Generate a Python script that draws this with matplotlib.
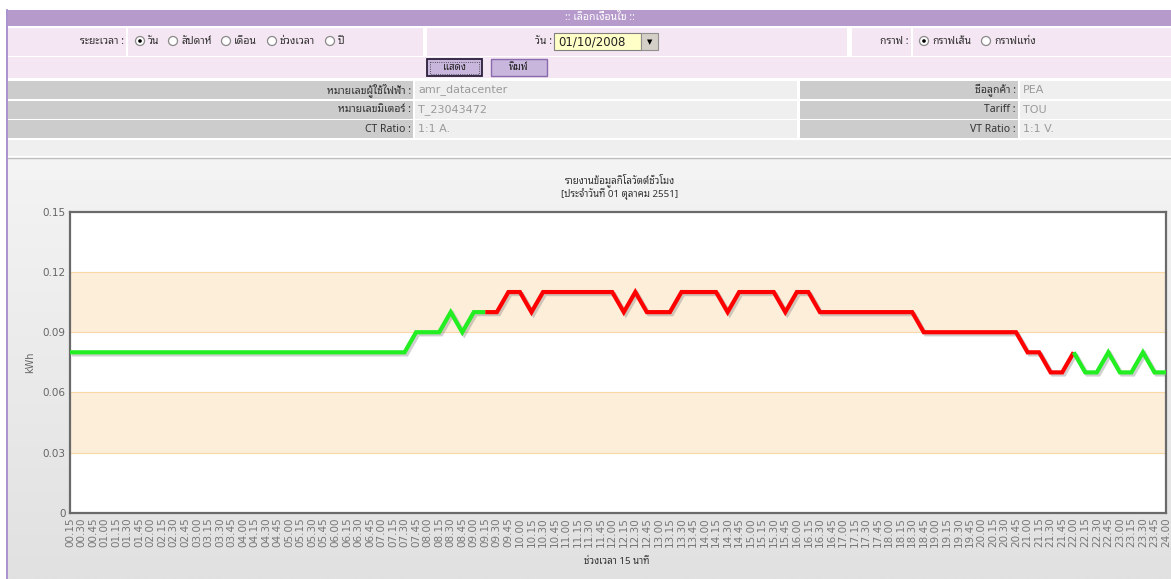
import numpy as np
import matplotlib.pyplot as plt
from matplotlib.patches import Rectangle, Circle
from matplotlib.colors import LinearSegmentedColormap
import matplotlib.patheffects as pe

# ข้อมูล kWh ทุก 15 นาที
time_labels = [
    '00.15', '00.30', '00.45', '01.00', '01.15', '01.30', '01.45', '02.00', '02.15', '02.30', '02.45', '03.00',
    '03.15', '03.30', '03.45', '04.00', '04.15', '04.30', '04.45', '05.00', '05.15', '05.30', '05.45', '06.00',
    '06.15', '06.30', '06.45', '07.00', '07.15', '07.30', '07.45', '08.00', '08.15', '08.30', '08.45', '09.00',
    '09.15', '09.30', '09.45', '10.00', '10.15', '10.30', '10.45', '11.00', '11.15', '11.30', '11.45', '12.00',
    '12.15', '12.30', '12.45', '13.00', '13.15', '13.30', '13.45', '14.00', '14.15', '14.30', '14.45', '15.00',
    '15.15', '15.30', '15.45', '16.00', '16.15', '16.30', '16.45', '17.00', '17.15', '17.30', '17.45', '18.00',
    '18.15', '18.30', '18.45', '19.00', '19.15', '19.30', '19.45', '20.00', '20.15', '20.30', '20.45', '21.00',
    '21.15', '21.30', '21.45', '22.00', '22.15', '22.30', '22.45', '23.00', '23.15', '23.30', '23.45', '24.00',
]
kwh = [
    0.08, 0.08, 0.08, 0.08, 0.08, 0.08, 0.08, 0.08, 0.08, 0.08, 0.08, 0.08,
    0.08, 0.08, 0.08, 0.08, 0.08, 0.08, 0.08, 0.08, 0.08, 0.08, 0.08, 0.08,
    0.08, 0.08, 0.08, 0.08, 0.08, 0.08, 0.09, 0.09, 0.09, 0.10, 0.09, 0.10,
    0.10, 0.10, 0.11, 0.11, 0.10, 0.11, 0.11, 0.11, 0.11, 0.11, 0.11, 0.11,
    0.10, 0.11, 0.10, 0.10, 0.10, 0.11, 0.11, 0.11, 0.11, 0.10, 0.11, 0.11,
    0.11, 0.11, 0.10, 0.11, 0.11, 0.10, 0.10, 0.10, 0.10, 0.10, 0.10, 0.10,
    0.10, 0.10, 0.09, 0.09, 0.09, 0.09, 0.09, 0.09, 0.09, 0.09, 0.09, 0.08,
    0.08, 0.07, 0.07, 0.08, 0.07, 0.07, 0.08, 0.07, 0.07, 0.08, 0.07, 0.07,
]
peak_from = '09.15'   # ช่วง on-peak (สีแดง)
peak_to = '22.00'
y_ticks = [0, 0.03, 0.06, 0.09, 0.12, 0.15]
y_tick_labels = ['0', '0.03', '0.06', '0.09', '0.12', '0.15']
bands = [(0.03, 0.06), (0.09, 0.12)]

plt.rcParams['font.family'] = ['Noto Sans Thai Looped', 'DejaVu Sans']

W, H = 1171, 579
fig = plt.figure(figsize=(W / 100, H / 100), dpi=100)
fig.patch.set_facecolor('white')

# แกนพื้นหลังเป็นพิกเซล
bg = fig.add_axes([0, 0, 1, 1])
bg.set_xlim(0, W)
bg.set_ylim(H, 0)
bg.axis('off')


def rect(x0, y0, x1, y1, color, **kw):
    bg.add_patch(Rectangle((x0, y0), x1 - x0, y1 - y0, facecolor=color, **kw))


def radio(x, y, checked):
    bg.add_patch(Circle((x, y), 4.5, facecolor='white', edgecolor='#8a8a8a', lw=0.9))
    if checked:
        bg.add_patch(Circle((x, y), 1.8, facecolor='black', edgecolor='none'))


lab = dict(fontsize=7.5, color='#333333', va='center')
val = dict(fontsize=8, color='#9a9a9a', va='center', family='DejaVu Sans')

# แถบหัว
bg.plot([7, 7], [10, H], color='#9b7fc4', lw=1.2)
rect(7.5, 10, W, 26, '#b59acb')
bg.text(600, 18, ':: เลือกเงื่อนไข ::', ha='center', va='center', color='white', fontsize=7.5, fontweight='bold')

# แถวเงื่อนไข
pink = '#f4e6f2'
for x0, x1 in [(8, 126), (128, 423), (427, 847), (852, 911), (913, W)]:
    rect(x0, 28, x1, 55.5, pink)
bg.text(124, 42, 'ระยะเวลา :', ha='right', **lab)
for x, name, on in [(140, 'วัน', True), (173, 'สัปดาห์', False), (226, 'เดือน', False),
                    (272, 'ช่วงเวลา', False), (330, 'ปี', False)]:
    radio(x, 41, on)
    bg.text(x + 8, 42, name, ha='left', **lab)
bg.text(552, 42, 'วัน :', ha='right', **lab)
rect(554, 33, 641, 50, '#ffffc8', edgecolor='#808080', lw=0.8)
bg.text(558, 42, '01/10/2008', ha='left', va='center', fontsize=8.5, color='#222', family='DejaVu Sans')
rect(641, 33, 658, 50, '#d4d0c8', edgecolor='#909090', lw=0.8)
bg.text(649.5, 42, '▼', ha='center', va='center', fontsize=5, color='black', family='DejaVu Sans')
bg.text(909, 42, 'กราฟ :', ha='right', **lab)
radio(924, 41, True)
bg.text(932, 42, 'กราฟเส้น', ha='left', **lab)
radio(986, 41, False)
bg.text(994, 42, 'กราฟแท่ง', ha='left', **lab)

# แถวปุ่ม
rect(8, 57, W, 77.5, pink)
rect(427, 59, 482, 76, '#c9b6dd', edgecolor='#2a1f3a', lw=1.3)
rect(430, 61.5, 479, 73.5, 'none', edgecolor='#333', lw=0.6, ls=':')
bg.text(454.5, 67.5, 'แสดง', ha='center', va='center', fontsize=7, color='#222', fontweight='bold')
rect(491, 59, 547, 76, '#c9b6dd', edgecolor='#8a6aaf', lw=1)
bg.text(519, 67.5, 'พิมพ์', ha='center', va='center', fontsize=7, color='#222', fontweight='bold')

# แถวข้อมูลลูกค้า
info = [
    ('หมายเลขผู้ใช้ไฟฟ้า :', 'amr_datacenter', 'ชื่อลูกค้า :', 'PEA'),
    ('หมายเลขมิเตอร์ :', 'T_23043472', 'Tariff :', 'TOU'),
    ('CT Ratio :', '1:1 A.', 'VT Ratio :', '1:1 V.'),
]
rows_y = [(81, 99), (101, 118.5), (120, 138)]
for (l1, v1, l2, v2), (y0, y1) in zip(info, rows_y):
    yc = (y0 + y1) / 2
    rect(8, y0, 413, y1, '#cccccc')
    rect(415, y0, 797, y1, '#efefef')
    rect(800, y0, 1018, y1, '#cccccc')
    rect(1020, y0, W, y1, '#efefef')
    bg.text(411, yc, l1, ha='right', fontweight='bold', **lab)
    bg.text(418, yc, v1, ha='left', **val)
    bg.text(1016, yc, l2, ha='right', fontweight='bold', **lab)
    bg.text(1023, yc, v2, ha='left', **val)
rect(8, 139.5, W, 156, '#efefef')

# พื้นหลังกราฟไล่สี
grad = np.linspace(0, 1, 256).reshape(-1, 1)
bg.imshow(grad, extent=[7.5, W, H, 158], cmap=LinearSegmentedColormap.from_list('g', ['#f4f4f4', '#e1e1e1']),
          aspect='auto', zorder=0)
bg.plot([7.5, W], [158, 158], color='#bdbdbd', lw=1)
bg.set_xlim(0, W)
bg.set_ylim(H, 0)

bg.text(620, 180, 'รายงานข้อมูลกิโลวัตต์ชั่วโมง', ha='center', va='center', fontsize=7, fontweight='bold', color='#333')
bg.text(620, 193.5, '[ประจำวันที่ 01 ตุลาคม 2551]', ha='center', va='center', fontsize=7, fontweight='bold', color='#333')
bg.text(617, 561, 'ช่วงเวลา 15 นาที', ha='center', va='center', fontsize=7, fontweight='bold', color='#333')
bg.text(30, 362, 'kWh', ha='center', va='center', rotation=90, fontsize=7, color='#666', family='DejaVu Sans')

# กราฟหลัก
ax = fig.add_axes([70 / W, 1 - 513 / H, (1166 - 70) / W, (513 - 211.7) / H])
ax.set_facecolor('white')
x = np.arange(len(kwh))
for lo, hi in bands:
    ax.axhspan(lo, hi, color='#fdeeda', lw=0, zorder=0)
    ax.axhline(lo, color='#fad8a4', lw=0.8, zorder=1)
    ax.axhline(hi, color='#fad8a4', lw=0.8, zorder=1)

i0 = time_labels.index(peak_from)
i1 = time_labels.index(peak_to)
shadow = [pe.SimpleLineShadow(offset=(1.5, -1.5), shadow_color='#777', alpha=0.35), pe.Normal()]
kw = dict(lw=3, solid_joinstyle='miter', solid_capstyle='butt', path_effects=shadow, zorder=3)
ax.plot(x[:i0 + 1], kwh[:i0 + 1], color='#22ee22', **kw)
ax.plot(x[i0:i1 + 1], kwh[i0:i1 + 1], color='#ff0000', **kw)
ax.plot(x[i1:], kwh[i1:], color='#22ee22', **kw)

ax.set_xlim(0, len(kwh) - 1)
ax.set_ylim(0, 0.15)
ax.set_xticks(x)
ax.set_xticklabels(time_labels, rotation=90, fontsize=7.5, color='#777', family='DejaVu Sans')
ax.set_yticks(y_ticks)
ax.set_yticklabels(y_tick_labels, fontsize=7.5, color='#666', family='DejaVu Sans')
ax.tick_params(length=0, pad=3)
for s in ax.spines.values():
    s.set_color('#6a6a6a')
    s.set_linewidth(1.6)

fig.savefig('out.png', dpi=100)
